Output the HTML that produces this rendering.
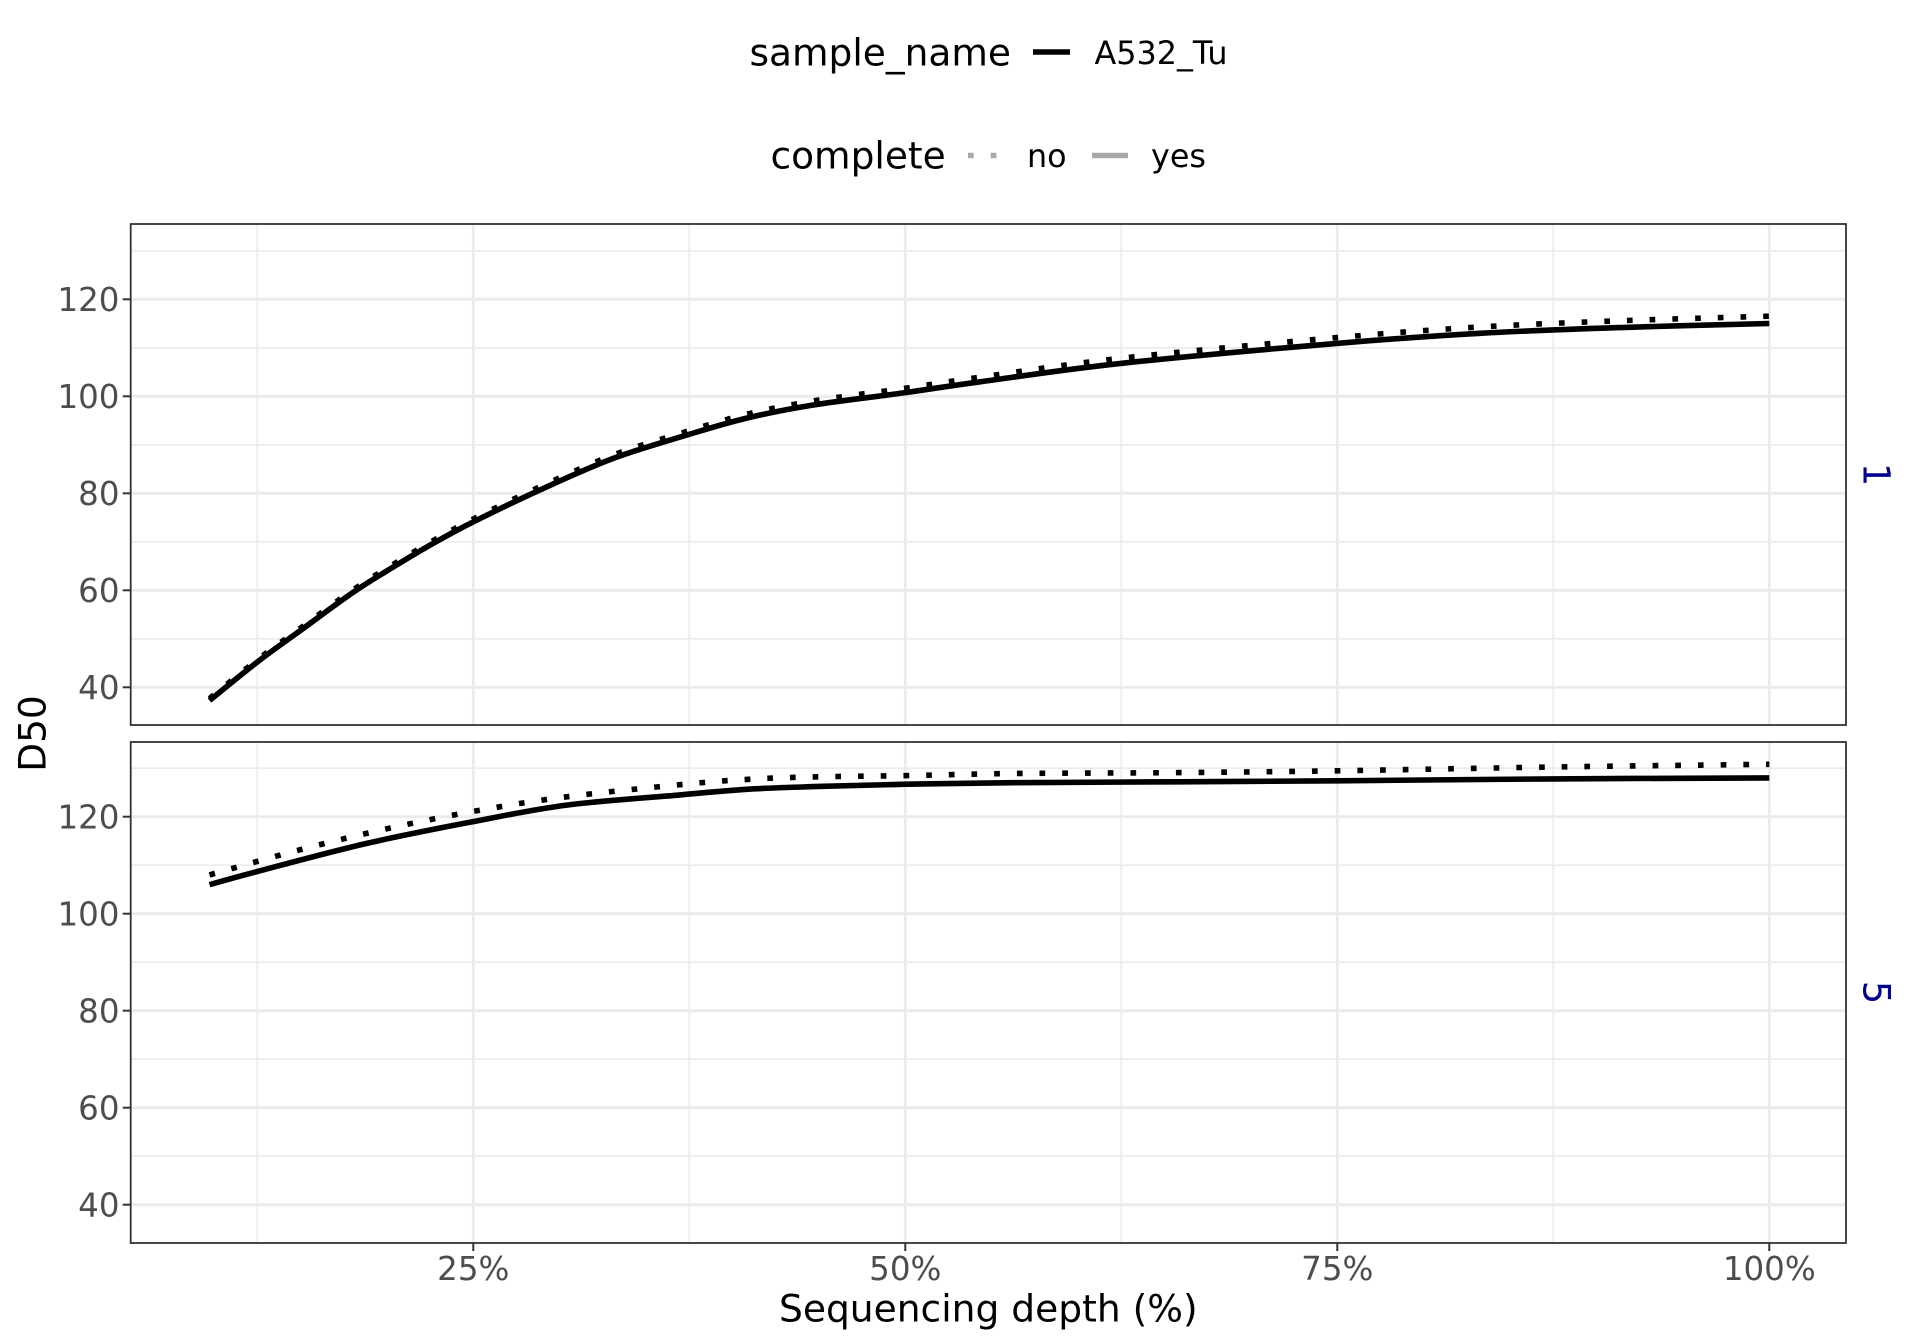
<!DOCTYPE html>
<html>
<head>
<meta charset="utf-8">
<style>
  html, body { margin: 0; padding: 0; background: #ffffff; }
  svg { display: block; }
  text { font-family: "DejaVu Sans", "Liberation Sans", sans-serif; }
</style>
</head>
<body>
<svg width="1920" height="1344" viewBox="0 0 1920 1344" xmlns="http://www.w3.org/2000/svg">
  <rect x="0" y="0" width="1920" height="1344" fill="#ffffff"/>

  <!-- Legend row 1 -->
  <text x="749.5" y="65.5" font-size="37.5" fill="#000000">sample_name</text>
  <line x1="1033" y1="52" x2="1070" y2="52" stroke="#000000" stroke-width="5.5"/>
  <text x="1094.5" y="64" font-size="31.8" fill="#000000">A532_Tu</text>

  <!-- Legend row 2 -->
  <text x="770.5" y="168.5" font-size="37.5" fill="#000000">complete</text>
  <line x1="968" y1="155.5" x2="1000" y2="155.5" stroke="#A9A9A9" stroke-width="5.5" stroke-dasharray="5.7 17"/>
  <text x="1027" y="167" font-size="31.8" fill="#000000">no</text>
  <line x1="1092" y1="155.5" x2="1128" y2="155.5" stroke="#A9A9A9" stroke-width="5.5"/>
  <text x="1151" y="167" font-size="31.8" fill="#000000">yes</text>

  <defs>
    <path id="p1solid" d="M209.5,700.5
      C217.47,694.08 242.22,673.62 257.3,662.0
      C272.38,650.38 284,642.43 300,630.8
      C316,619.17 337.75,602.83 353.3,592.2
      C368.85,581.57 379.97,575.15 393.3,567.0
      C406.63,558.85 419.97,550.82 433.3,543.3
      C446.63,535.78 455.52,530.8 473.3,521.9
      C491.08,513.0 516.67,500.48 540,489.9
      C563.33,479.32 588.85,467.53 613.3,458.4
      C637.75,449.27 664.47,441.82 686.7,435.1
      C708.93,428.38 725.6,423.12 746.7,418.1
      C767.8,413.08 787.2,409.2 813.3,405.0
      C839.4,400.8 875.52,396.77 903.3,392.9
      C931.08,389.03 943.6,386.73 980,381.8
      C1016.4,376.87 1062.25,369.7 1121.7,363.3
      C1181.15,356.9 1276.98,348.4 1336.7,343.4
      C1396.42,338.4 1431.95,336.0 1480,333.3
      C1528.05,330.63 1576.78,329.03 1625,327.4
      C1673.22,325.77 1745.25,324.15 1769.3,323.5"/>
  </defs>

  <!-- ================= PANEL 1 ================= -->
  <g>
    <rect x="130.7" y="224" width="1715.3" height="501" fill="#ffffff"/>
    <g stroke="#EBEBEB" stroke-width="1.6">
      <line x1="130.7" x2="1846" y1="250.8" y2="250.8"/>
      <line x1="130.7" x2="1846" y1="347.8" y2="347.8"/>
      <line x1="130.7" x2="1846" y1="444.8" y2="444.8"/>
      <line x1="130.7" x2="1846" y1="541.8" y2="541.8"/>
      <line x1="130.7" x2="1846" y1="638.8" y2="638.8"/>
      <line x1="257.3" x2="257.3" y1="224" y2="725"/>
      <line x1="689.3" x2="689.3" y1="224" y2="725"/>
      <line x1="1121.3" x2="1121.3" y1="224" y2="725"/>
      <line x1="1553.3" x2="1553.3" y1="224" y2="725"/>
    </g>
    <g stroke="#EBEBEB" stroke-width="2.8">
      <line x1="130.7" x2="1846" y1="299.3" y2="299.3"/>
      <line x1="130.7" x2="1846" y1="396.3" y2="396.3"/>
      <line x1="130.7" x2="1846" y1="493.3" y2="493.3"/>
      <line x1="130.7" x2="1846" y1="590.3" y2="590.3"/>
      <line x1="130.7" x2="1846" y1="687.3" y2="687.3"/>
      <line x1="473.3" x2="473.3" y1="224" y2="725"/>
      <line x1="905.3" x2="905.3" y1="224" y2="725"/>
      <line x1="1337.3" x2="1337.3" y1="224" y2="725"/>
      <line x1="1769.3" x2="1769.3" y1="224" y2="725"/>
    </g>
    <!-- dotted (no): solid shape shifted upward progressively -->
    <use href="#p1solid" transform="matrix(1,-0.0034,0,1,0,-1.29)" fill="none" stroke="#000000" stroke-width="5.6" stroke-dasharray="5.7 17"/>
    <!-- solid (yes) -->
    <use href="#p1solid" fill="none" stroke="#000000" stroke-width="5.6"/>
    <rect x="130.7" y="224" width="1715.3" height="501" fill="none" stroke="#333333" stroke-width="1.8"/>
    <g stroke="#333333" stroke-width="2">
      <line x1="122.7" x2="130.7" y1="299.3" y2="299.3"/>
      <line x1="122.7" x2="130.7" y1="396.3" y2="396.3"/>
      <line x1="122.7" x2="130.7" y1="493.3" y2="493.3"/>
      <line x1="122.7" x2="130.7" y1="590.3" y2="590.3"/>
      <line x1="122.7" x2="130.7" y1="687.3" y2="687.3"/>
    </g>
    <g font-size="32.5" fill="#4D4D4D" text-anchor="end">
      <text x="119.5" y="311">120</text>
      <text x="119.5" y="408">100</text>
      <text x="119.5" y="505">80</text>
      <text x="119.5" y="602">60</text>
      <text x="119.5" y="699">40</text>
    </g>
    <text transform="translate(1876.7,474.5) rotate(90)" x="0" y="13.3" font-size="37" fill="#00008B" text-anchor="middle">1</text>
  </g>

  <!-- ================= PANEL 2 ================= -->
  <g>
    <rect x="130.7" y="742" width="1715.3" height="501" fill="#ffffff"/>
    <g stroke="#EBEBEB" stroke-width="1.6">
      <line x1="130.7" x2="1846" y1="768.2" y2="768.2"/>
      <line x1="130.7" x2="1846" y1="865.2" y2="865.2"/>
      <line x1="130.7" x2="1846" y1="962.2" y2="962.2"/>
      <line x1="130.7" x2="1846" y1="1059.2" y2="1059.2"/>
      <line x1="130.7" x2="1846" y1="1156.2" y2="1156.2"/>
      <line x1="257.3" x2="257.3" y1="742" y2="1243"/>
      <line x1="689.3" x2="689.3" y1="742" y2="1243"/>
      <line x1="1121.3" x2="1121.3" y1="742" y2="1243"/>
      <line x1="1553.3" x2="1553.3" y1="742" y2="1243"/>
    </g>
    <g stroke="#EBEBEB" stroke-width="2.8">
      <line x1="130.7" x2="1846" y1="816.7" y2="816.7"/>
      <line x1="130.7" x2="1846" y1="913.7" y2="913.7"/>
      <line x1="130.7" x2="1846" y1="1010.7" y2="1010.7"/>
      <line x1="130.7" x2="1846" y1="1107.7" y2="1107.7"/>
      <line x1="130.7" x2="1846" y1="1204.7" y2="1204.7"/>
      <line x1="473.3" x2="473.3" y1="742" y2="1243"/>
      <line x1="905.3" x2="905.3" y1="742" y2="1243"/>
      <line x1="1337.3" x2="1337.3" y1="742" y2="1243"/>
      <line x1="1769.3" x2="1769.3" y1="742" y2="1243"/>
    </g>
    <!-- dotted (no) -->
    <path fill="none" stroke="#000000" stroke-width="5.6" stroke-dasharray="5.7 17" d="M209.5,874.9
      C224.3,870.78 268.77,857.88 298.3,850.2
      C327.83,842.52 357.08,835.35 386.7,828.8
      C416.32,822.25 446,816.23 476,810.9
      C506,805.57 532.7,801.17 566.7,796.8
      C600.7,792.43 650,787.6 680,784.7
      C710,781.8 724.48,780.7 746.7,779.4
      C768.92,778.1 786.63,777.53 813.3,776.9
      C839.97,776.27 873.37,776.17 906.7,775.6
      C940.03,775.03 967.75,774.0 1013.3,773.5
      C1058.85,773.0 1126,773.05 1180,772.6
      C1234,772.15 1275.13,771.73 1337.3,770.8
      C1399.47,769.87 1481,768.08 1553,767.0
      C1625,765.92 1733.25,764.75 1769.3,764.3"/>
    <!-- solid (yes) -->
    <path fill="none" stroke="#000000" stroke-width="5.6" d="M209.5,884.6
      C217.47,882.42 231.1,878.37 257.3,871.5
      C283.5,864.63 330.7,851.72 366.7,843.4
      C402.7,835.08 439.97,827.98 473.3,821.6
      C506.63,815.22 532.25,809.55 566.7,805.1
      C601.15,800.65 650,797.53 680,794.9
      C710,792.27 724.48,790.68 746.7,789.3
      C768.92,787.92 786.63,787.45 813.3,786.6
      C839.97,785.75 873.37,784.85 906.7,784.2
      C940.03,783.55 967.75,783.1 1013.3,782.7
      C1058.85,782.3 1126,782.12 1180,781.8
      C1234,781.48 1275.13,781.28 1337.3,780.8
      C1399.47,780.32 1481,779.38 1553,778.9
      C1625,778.42 1733.25,778.07 1769.3,777.9"/>
    <rect x="130.7" y="742" width="1715.3" height="501" fill="none" stroke="#333333" stroke-width="1.8"/>
    <g stroke="#333333" stroke-width="2">
      <line x1="122.7" x2="130.7" y1="816.7" y2="816.7"/>
      <line x1="122.7" x2="130.7" y1="913.7" y2="913.7"/>
      <line x1="122.7" x2="130.7" y1="1010.7" y2="1010.7"/>
      <line x1="122.7" x2="130.7" y1="1107.7" y2="1107.7"/>
      <line x1="122.7" x2="130.7" y1="1204.7" y2="1204.7"/>
      <line x1="473.3" x2="473.3" y1="1243" y2="1251"/>
      <line x1="905.3" x2="905.3" y1="1243" y2="1251"/>
      <line x1="1337.3" x2="1337.3" y1="1243" y2="1251"/>
      <line x1="1769.3" x2="1769.3" y1="1243" y2="1251"/>
    </g>
    <g font-size="32.5" fill="#4D4D4D" text-anchor="end">
      <text x="119.5" y="828.4">120</text>
      <text x="119.5" y="925.4">100</text>
      <text x="119.5" y="1022.4">80</text>
      <text x="119.5" y="1119.4">60</text>
      <text x="119.5" y="1216.4">40</text>
    </g>
    <text transform="translate(1876.7,992.5) rotate(90)" x="0" y="13.3" font-size="37" fill="#00008B" text-anchor="middle">5</text>
  </g>

  <!-- x tick labels -->
  <g font-size="32.5" fill="#4D4D4D" text-anchor="middle">
    <text x="473.3" y="1280">25%</text>
    <text x="905.3" y="1280">50%</text>
    <text x="1337.3" y="1280">75%</text>
    <text x="1769.3" y="1280">100%</text>
  </g>

  <!-- axis titles -->
  <text x="988.3" y="1321.7" font-size="37.6" fill="#000000" text-anchor="middle">Sequencing depth (%)</text>
  <text transform="translate(45.5,733.5) rotate(-90)" x="0" y="0" font-size="37.5" fill="#000000" text-anchor="middle">D50</text>
</svg>
</body>
</html>
